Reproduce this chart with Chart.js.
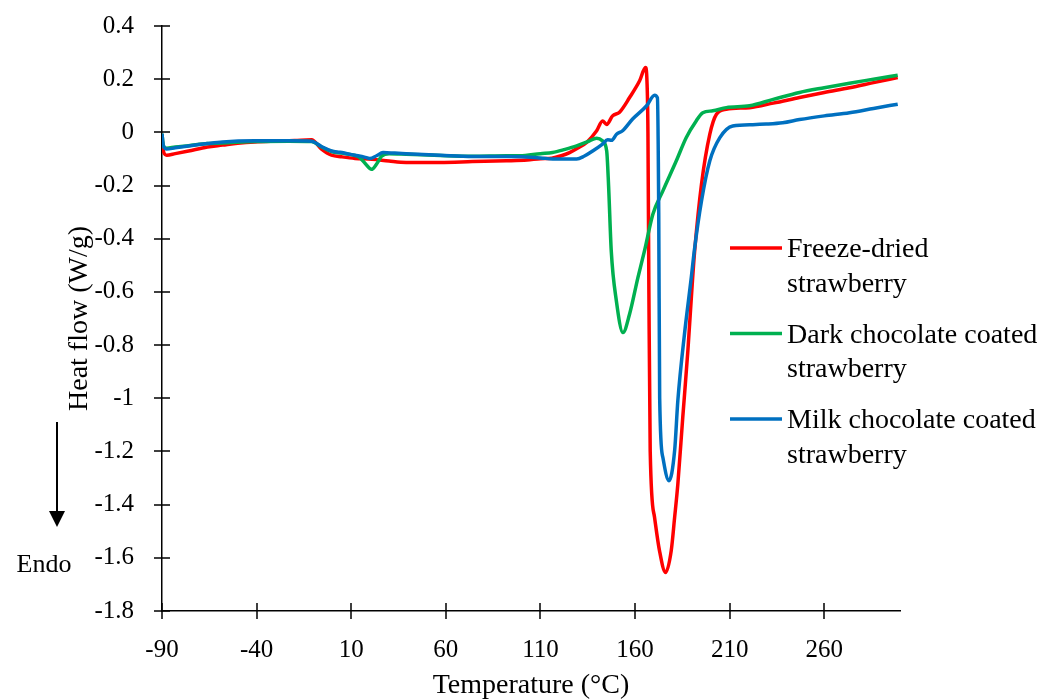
<!DOCTYPE html>
<html>
<head>
<meta charset="utf-8">
<script src="https://cdn.jsdelivr.net/npm/chart.js@4.4.1/dist/chart.umd.min.js"></script>
<style>
    body { margin: 0; background: #fff; }
    #wrap { width: 1058px; height: 700px; }
</style>
</head>
<body>
<div id="wrap"><canvas id="dscChart" width="1058" height="700"></canvas></div>
<script>
// tick labels
var xTicks = [-90, -40, 10, 60, 110, 160, 210, 260];
var yTicks = [0.4, 0.2, 0, -0.2, -0.4, -0.6, -0.8, -1, -1.2, -1.4, -1.6, -1.8];

// series labels
var seriesNames = [
    ['Freeze-dried', 'strawberry'],
    ['Dark chocolate coated', 'strawberry'],
    ['Milk chocolate coated', 'strawberry']
];

// Freeze-dried strawberry
var freezeTemp = [-90, -89.3, -87.5, -83, -76, -66, -58, -50, -41, -30, -20, -11, -5.7, -0.4, 5, 12, 21, 30, 39, 57, 74, 92, 103, 110, 116, 121, 125.4, 130, 134.4, 139.7, 142.8, 145, 148.1, 151.8, 157.1, 162.4, 165.5, 166.3, 166.8, 167.3, 168, 170.3, 172.9, 176.1, 179.1, 180.9, 182.6, 185.2, 187.9, 190.2, 191.5, 195.1, 199.5, 203, 208.2, 220.5, 233, 246.9, 260, 273.3, 286, 298.8];
var freezeFlow = [-0.02, -0.07, -0.086, -0.08, -0.07, -0.055, -0.048, -0.041, -0.036, -0.033, -0.031, -0.028, -0.063, -0.086, -0.092, -0.098, -0.101, -0.108, -0.113, -0.113, -0.110, -0.107, -0.104, -0.099, -0.097, -0.088, -0.076, -0.058, -0.038, 0.006, 0.043, 0.03, 0.062, 0.076, 0.131, 0.194, 0.244, 0.19, 0.0, -0.6, -1.2, -1.448, -1.573, -1.655, -1.573, -1.448, -1.323, -1.072, -0.821, -0.571, -0.445, -0.195, -0.007, 0.068, 0.087, 0.093, 0.11, 0.131, 0.15, 0.168, 0.187, 0.206];

// Dark chocolate coated strawberry
var darkTemp = [-90, -89.3, -87.5, -83, -76, -66, -58, -41, -23, -11, -5.7, -0.4, 5, 12, 14.5, 17.5, 20.7, 23.5, 26, 30, 39, 57, 74, 92, 99, 110, 116.4, 123, 129.1, 135, 139.7, 142.8, 145, 146, 147.4, 150.1, 153.6, 157.1, 161.5, 165, 169.4, 174.7, 181.8, 187, 192.3, 195.8, 201.1, 208.2, 220.5, 233, 246.9, 260, 273.3, 286, 298.8];
var darkFlow = [-0.005, -0.05, -0.06, -0.055, -0.05, -0.042, -0.04, -0.034, -0.033, -0.034, -0.055, -0.072, -0.078, -0.087, -0.095, -0.118, -0.139, -0.118, -0.09, -0.08, -0.082, -0.087, -0.09, -0.088, -0.088, -0.08, -0.076, -0.064, -0.051, -0.035, -0.022, -0.032, -0.07, -0.2, -0.445, -0.633, -0.753, -0.683, -0.546, -0.445, -0.308, -0.22, -0.107, -0.02, 0.043, 0.074, 0.081, 0.093, 0.10, 0.124, 0.15, 0.168, 0.185, 0.2, 0.215];

// Milk chocolate coated strawberry
var milkTemp = [-90, -89.3, -87.5, -83, -76, -66, -58, -41, -23, -11, -5.7, -0.4, 4, 12, 17, 19.8, 23.4, 26.8, 33, 39, 57, 74, 92, 110, 116.4, 123, 129.1, 133, 137.6, 142.8, 145.5, 147.6, 150.2, 153.4, 158.7, 166.1, 170.3, 171.8, 172.5, 173, 174.7, 177.9, 180.9, 182.6, 186.1, 189.7, 191.3, 195.1, 199.5, 204.8, 211.6, 222.2, 229.3, 238, 246.9, 260, 273.3, 286, 298.8];
var milkFlow = [-0.005, -0.05, -0.063, -0.058, -0.051, -0.042, -0.036, -0.032, -0.032, -0.033, -0.053, -0.07, -0.075, -0.086, -0.093, -0.098, -0.088, -0.076, -0.078, -0.08, -0.086, -0.091, -0.091, -0.096, -0.10, -0.10, -0.10, -0.09, -0.07, -0.044, -0.028, -0.03, -0.007, 0.006, 0.05, 0.10, 0.14, 0.13, -0.3, -1.0, -1.223, -1.31, -1.197, -1.009, -0.759, -0.546, -0.445, -0.258, -0.107, -0.02, 0.024, 0.029, 0.031, 0.036, 0.048, 0.062, 0.074, 0.09, 0.106];

var FONT = 'Liberation Serif';

function toPoints(xs, ys) {
    return xs.map(function (x, i) { return { x: x, y: ys[i] }; });
}

function series(label, xs, ys, color, order) {
    return {
        label: label,
        data: toPoints(xs, ys),
        borderColor: color,
        backgroundColor: color,
        borderWidth: 3.5,
        pointRadius: 0,
        fill: false,
        cubicInterpolationMode: 'monotone',
        order: order
    };
}

// crossing tick marks on both axes
var crossTicks = {
    id: 'crossTicks',
    afterDraw: function (chart) {
        var ctx = chart.ctx, area = chart.chartArea;
        var xs = chart.scales.x, ys = chart.scales.y;
        ctx.save();
        ctx.strokeStyle = '#000';
        ctx.lineWidth = 1.5;
        ctx.beginPath();
        xTicks.forEach(function (v) {
            var px = Math.round(xs.getPixelForValue(v));
            ctx.moveTo(px, area.bottom - 8);
            ctx.lineTo(px, area.bottom + 8);
        });
        yTicks.forEach(function (v) {
            var py = Math.round(ys.getPixelForValue(v));
            ctx.moveTo(area.left - 8, py);
            ctx.lineTo(area.left + 8, py);
        });
        ctx.stroke();
        ctx.restore();
    }
};

// legend on the right with two-line labels, plus the Endo arrow
var sideNotes = {
    id: 'sideNotes',
    afterDraw: function (chart) {
        var ctx = chart.ctx;
        ctx.save();
        ctx.font = '28px "' + FONT + '"';
        ctx.fillStyle = '#000';
        ctx.textBaseline = 'alphabetic';
        ctx.textAlign = 'left';
        chart.data.datasets.forEach(function (ds, i) {
            var top = 248 + i * 85.5;
            ctx.strokeStyle = ds.borderColor;
            ctx.lineWidth = 3.5;
            ctx.beginPath();
            ctx.moveTo(730, top);
            ctx.lineTo(782, top);
            ctx.stroke();
            ds.label.forEach(function (line, j) {
                ctx.fillText(line, 787, top + 9 + j * 34.5);
            });
        });

        // Endo arrow
        ctx.strokeStyle = '#000';
        ctx.lineWidth = 2;
        ctx.beginPath();
        ctx.moveTo(57, 422);
        ctx.lineTo(57, 512);
        ctx.stroke();
        ctx.beginPath();
        ctx.moveTo(49, 511);
        ctx.lineTo(65, 511);
        ctx.lineTo(57, 527);
        ctx.closePath();
        ctx.fill();
        ctx.font = '26px "' + FONT + '"';
        ctx.textAlign = 'center';
        ctx.fillText('Endo', 44, 572);
        ctx.restore();
    }
};

new Chart(document.getElementById('dscChart'), {
    type: 'line',
    data: {
        datasets: [
            series(seriesNames[0], freezeTemp, freezeFlow, '#FF0000', 3),
            series(seriesNames[1], darkTemp, darkFlow, '#00B050', 2),
            series(seriesNames[2], milkTemp, milkFlow, '#0070C0', 1)
        ]
    },
    options: {
        responsive: false,
        animation: false,
        layout: { padding: { top: 26, right: 158, left: 0, bottom: 0 } },
        plugins: {
            legend: { display: false },
            tooltip: { enabled: false }
        },
        scales: {
            x: {
                type: 'linear',
                min: -90,
                max: 300,
                afterBuildTicks: function (scale) {
                    scale.ticks = xTicks.map(function (v) { return { value: v }; });
                },
                afterFit: function (scale) { scale.height = 89; },
                grid: { display: true, drawOnChartArea: false, drawTicks: false },
                border: { display: true, color: '#000', width: 1.5 },
                ticks: {
                    color: '#000',
                    padding: 24,
                    maxRotation: 0,
                    font: { family: FONT, size: 25 },
                    callback: function (v) { return String(v); }
                },
                title: {
                    display: true,
                    text: 'Temperature (°C)',
                    color: '#000',
                    font: { family: FONT, size: 28, lineHeight: 1 },
                    padding: { top: 0, bottom: 0 }
                }
            },
            y: {
                min: -1.8,
                max: 0.4,
                afterBuildTicks: function (scale) {
                    scale.ticks = yTicks.map(function (v) { return { value: v }; });
                },
                afterFit: function (scale) {
                    scale.width = 162;
                    scale.paddingTop = 0;
                    scale.paddingBottom = 0;
                },
                grid: { display: true, drawOnChartArea: false, drawTicks: false },
                border: { display: true, color: '#000', width: 1.5 },
                ticks: {
                    color: '#000',
                    padding: 28,
                    font: { family: FONT, size: 25 },
                    callback: function (v) { return String(Number(v.toFixed(1))); }
                },
                title: {
                    display: true,
                    text: 'Heat flow (W/g)',
                    color: '#000',
                    font: { family: FONT, size: 28, lineHeight: 1 },
                    padding: { top: 66, bottom: 0 }
                }
            }
        }
    },
    plugins: [crossTicks, sideNotes]
});
</script>
</body>
</html>
